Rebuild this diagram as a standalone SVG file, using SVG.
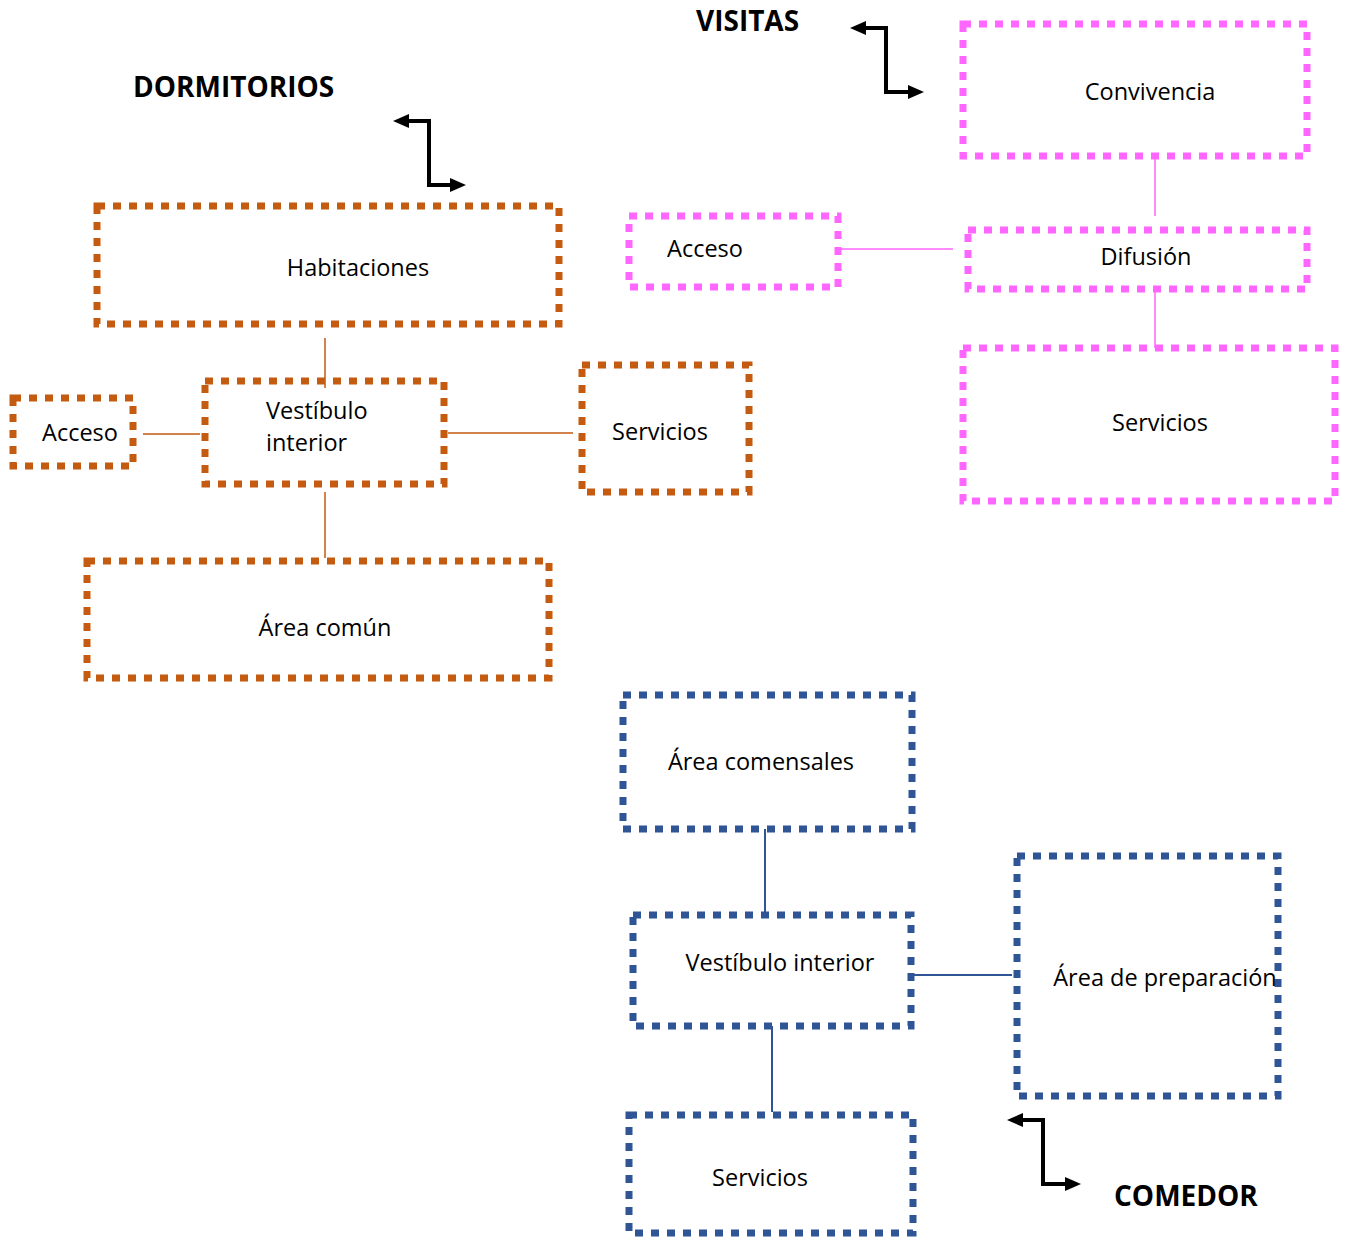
<svg xmlns="http://www.w3.org/2000/svg" width="1347" height="1239" viewBox="0 0 1347 1239">
<style>
text{font-family:"Open Sans","Noto Sans","Liberation Sans",sans-serif;font-size:23.5px;fill:#000}
.t{text-anchor:middle}
.h{font-weight:bold;font-size:28px}
rect{fill:none;stroke-width:7;stroke-dasharray:8 8}
.o rect{stroke:#C55A11}.p rect{stroke:#FF66FF}.b rect{stroke:#2F5597}
.co{stroke:#C55A11;stroke-width:1.5;fill:none}
.cp{stroke:#FF66FF;stroke-width:1.5;fill:none}
.cb{stroke:#2F5597;stroke-width:2;fill:none}
.ar{stroke:#000;stroke-width:4;fill:none;marker-start:url(#ah);marker-end:url(#ah)}
</style>
<defs>
<marker id="ah" viewBox="0 0 16 14" refX="4" refY="7" markerWidth="16" markerHeight="14" orient="auto-start-reverse" markerUnits="userSpaceOnUse">
<path d="M0,0 L16,7 L0,14 z" fill="#000"/>
</marker>
</defs>
<g id="connectors">
<path class="co" d="M325,338V388M143,434H200M448,433H573M325,492V558"/>
<path class="cp" d="M1155,156V216M838,249H953M1155,289V348"/>
<path class="cb" d="M765,829V912M911,975H1012M772,1026V1112"/>
<path class="ar" d="M405,121H429V185H454"/>
<path class="ar" d="M862,28H886V92H912"/>
<path class="ar" d="M1019,1120H1043V1184H1069"/>
</g>
<g id="labels">
<text class="h" x="133" y="97">DORMITORIOS</text>
<text class="h" x="696" y="31">VISITAS</text>
<text class="h" x="1114" y="1206">COMEDOR</text>
</g>
<g class="o">
<g id="habitaciones"><rect x="97" y="206" width="462" height="118"/><text class="t" x="358" y="276">Habitaciones</text></g>
<g id="acceso-d"><rect x="13" y="398" width="120" height="68"/><text class="t" x="80" y="441">Acceso</text></g>
<g id="vestibulo-d"><rect x="205" y="381" width="239" height="103"/><text x="266" y="419">Vestíbulo</text><text x="266" y="451">interior</text></g>
<g id="servicios-d"><rect x="582" y="365" width="167" height="127"/><text class="t" x="660" y="440">Servicios</text></g>
<g id="area-comun"><rect x="87" y="561" width="462" height="117"/><text class="t" x="325" y="636">Área común</text></g>
</g>
<g class="p">
<g id="convivencia"><rect x="963" y="24" width="344" height="132"/><text class="t" x="1150" y="100">Convivencia</text></g>
<g id="acceso-v"><rect x="629" y="216" width="209" height="71"/><text class="t" x="705" y="257">Acceso</text></g>
<g id="difusion"><rect x="968" y="230" width="339" height="59"/><text class="t" x="1146" y="265">Difusión</text></g>
<g id="servicios-v"><rect x="963" y="348" width="372" height="153"/><text class="t" x="1160" y="431">Servicios</text></g>
</g>
<g class="b">
<g id="area-comensales"><rect x="623" y="695" width="289" height="134"/><text class="t" x="761" y="770">Área comensales</text></g>
<g id="vestibulo-c"><rect x="633" y="915" width="278" height="111"/><text class="t" x="780" y="971">Vestíbulo interior</text></g>
<g id="area-preparacion"><rect x="1017" y="856" width="261" height="240"/><text class="t" x="1165" y="986">Área de preparación</text></g>
<g id="servicios-c"><rect x="629" y="1115" width="284" height="118"/><text class="t" x="760" y="1186">Servicios</text></g>
</g>
</svg>
